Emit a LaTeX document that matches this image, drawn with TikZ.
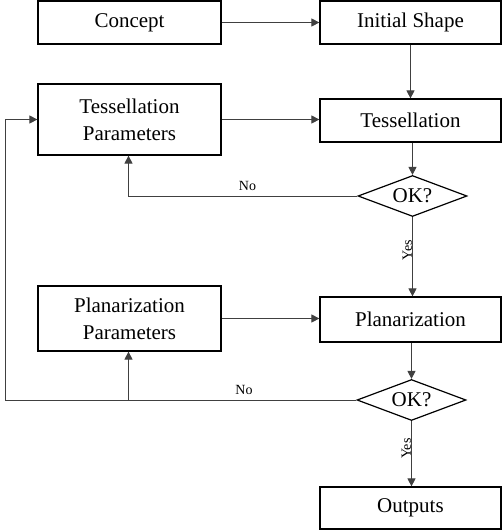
\documentclass[tikz,border=0pt]{standalone}
\usepackage{fontspec}
\setmainfont{Liberation Serif}
\usetikzlibrary{arrows.meta,shapes.geometric}
\begin{document}
\begin{tikzpicture}[x=1pt,y=-1pt,
  box/.style={draw=black,line width=1.2pt,rectangle,inner sep=0pt,align=center,
    font=\fontsize{21}{27}\selectfont},
  dec/.style={draw=black,line width=1.2pt,diamond,aspect=2.6,inner sep=0pt,
    minimum width=109pt,minimum height=41pt,font=\fontsize{21}{24}\selectfont},
  conn/.style={draw=black!75,line width=0.9pt},
  arr/.style={conn,-{Triangle[length=8pt,width=8pt]}},
  lbl/.style={font=\fontsize{14}{16}\selectfont,inner sep=0pt}]
\useasboundingbox (0,0) rectangle (502,531);
\node[box,minimum width=183pt,minimum height=43pt] (concept) at (129.5,22.5) {Concept};
\node[box,minimum width=181pt,minimum height=43pt] (init) at (410.5,22.5) {Initial Shape};
\node[box,minimum width=183pt,minimum height=71pt] (tp) at (129.5,119.5) {Tessellation\\Parameters};
\node[box,minimum width=181pt,minimum height=43pt] (tess) at (410.5,120.5) {Tessellation};
\node[dec] (d1) at (412.5,196) {OK?};
\node[box,minimum width=183pt,minimum height=65pt] (pp) at (129.5,318.5) {Planarization\\Parameters};
\node[box,minimum width=181pt,minimum height=45pt] (plan) at (410.5,319.5) {Planarization};
\node[dec] (d2) at (411.5,400) {OK?};
\node[box,minimum width=181pt,minimum height=42pt] (out) at (410.5,508) {Outputs};
\coordinate (lb) at (5,400);
\coordinate (br) at (128.5,400);
\draw[arr] (concept) -- (init);
\draw[arr] (init) -- (tess);
\draw[arr] (tp) -- (tess.west |- tp);
\draw[arr] (tess.south -| d1) -- (d1.north);
\draw[arr] (d1.west) -| node[lbl,pos=0.24,above=5pt] {No} (tp.south -| br);
\draw[arr] (d1.south) -- node[lbl,rotate=90,pos=0.42,anchor=south] {Yes} (plan.north -| d1);
\draw[arr] (pp) -- (plan.west |- pp);
\draw[arr] (plan.south -| d2) -- (d2.north);
\draw[conn] (d2.west) -- node[lbl,pos=0.32,above=5pt] {No} (lb);
\draw[arr] (lb) |- (tp.west);
\draw[arr] (br) -- (pp.south -| br);
\draw[arr] (d2.south) -- node[lbl,rotate=90,pos=0.42,anchor=south] {Yes} (out.north -| d2);
\end{tikzpicture}
\end{document}
